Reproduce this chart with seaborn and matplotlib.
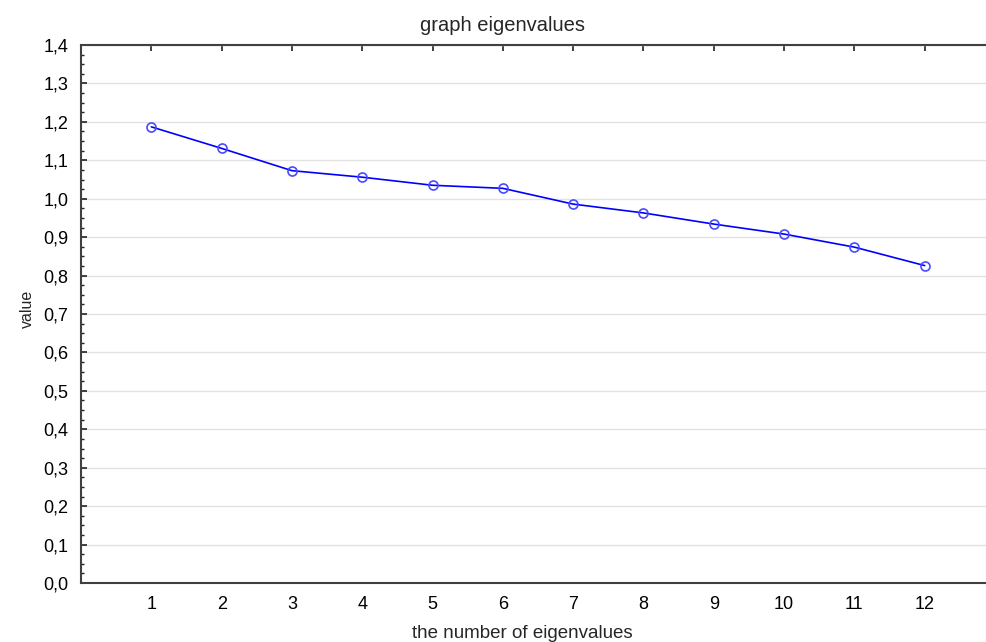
import matplotlib
matplotlib.use("Agg")
import matplotlib.pyplot as plt
import seaborn as sns
import pandas as pd
from matplotlib.ticker import FuncFormatter, AutoMinorLocator, MultipleLocator

# data
eigen_number = [1, 2, 3, 4, 5, 6, 7, 8, 9, 10, 11, 12]
eigen_value = [1.187, 1.131, 1.073, 1.056, 1.035, 1.027, 0.986, 0.963, 0.934, 0.908, 0.874, 0.826]

sns.set_style("white")
plt.rcParams['font.family'] = ['Liberation Sans', 'DejaVu Sans']

df = pd.DataFrame({"n": eigen_number, "v": eigen_value})

fig = plt.figure(figsize=(9.87, 6.42), dpi=100)
ax = fig.add_axes([0.0821, 0.0919, 0.926, 0.838])

sns.lineplot(data=df, x="n", y="v", ax=ax, color="#0000ff", linewidth=1.2,
             marker="o", markersize=6.5, markerfacecolor="none",
             markeredgecolor="#4a4aff", markeredgewidth=1.2)

ax.set_xlim(0, 13)
ax.set_ylim(0, 1.4)
ax.set_xticks(eigen_number)
ax.yaxis.set_major_locator(MultipleLocator(0.1))
ax.yaxis.set_minor_locator(AutoMinorLocator(4))
ax.yaxis.set_major_formatter(FuncFormatter(lambda v, p: f"{v:.1f}".replace(".", ",")))

ax.grid(axis="y", which="major", color="#e2e2e2", linewidth=1.0)
ax.set_axisbelow(True)

for s in ["left", "bottom", "top"]:
    ax.spines[s].set_visible(True)
    ax.spines[s].set_color("#404040")
    ax.spines[s].set_linewidth(1.5)
ax.spines["right"].set_visible(False)

ax.tick_params(axis="x", which="major", direction="in", length=4, width=1.2,
               colors="#202020", labelcolor="black", labelsize=13, pad=9, top=True)
ax.tick_params(axis="y", which="major", direction="in", length=4, width=1.2,
               colors="#202020", labelcolor="black", labelsize=13, pad=9, left=True)
ax.tick_params(axis="y", which="minor", direction="in", length=2.5, width=1.0,
               colors="#202020", left=True)

ax.set_title("graph eigenvalues", fontsize=14.5, pad=10, x=0.4606)
ax.set_xlabel("the number of eigenvalues", fontsize=13.5)
ax.xaxis.set_label_coords(0.4825, -0.093)
ax.xaxis.label.set_va("center")
ax.set_ylabel("value", fontsize=11.5)
ax.yaxis.set_label_coords(-0.059, 0.509)
ax.yaxis.label.set_va("center")

fig.savefig("out.png", dpi=100)
